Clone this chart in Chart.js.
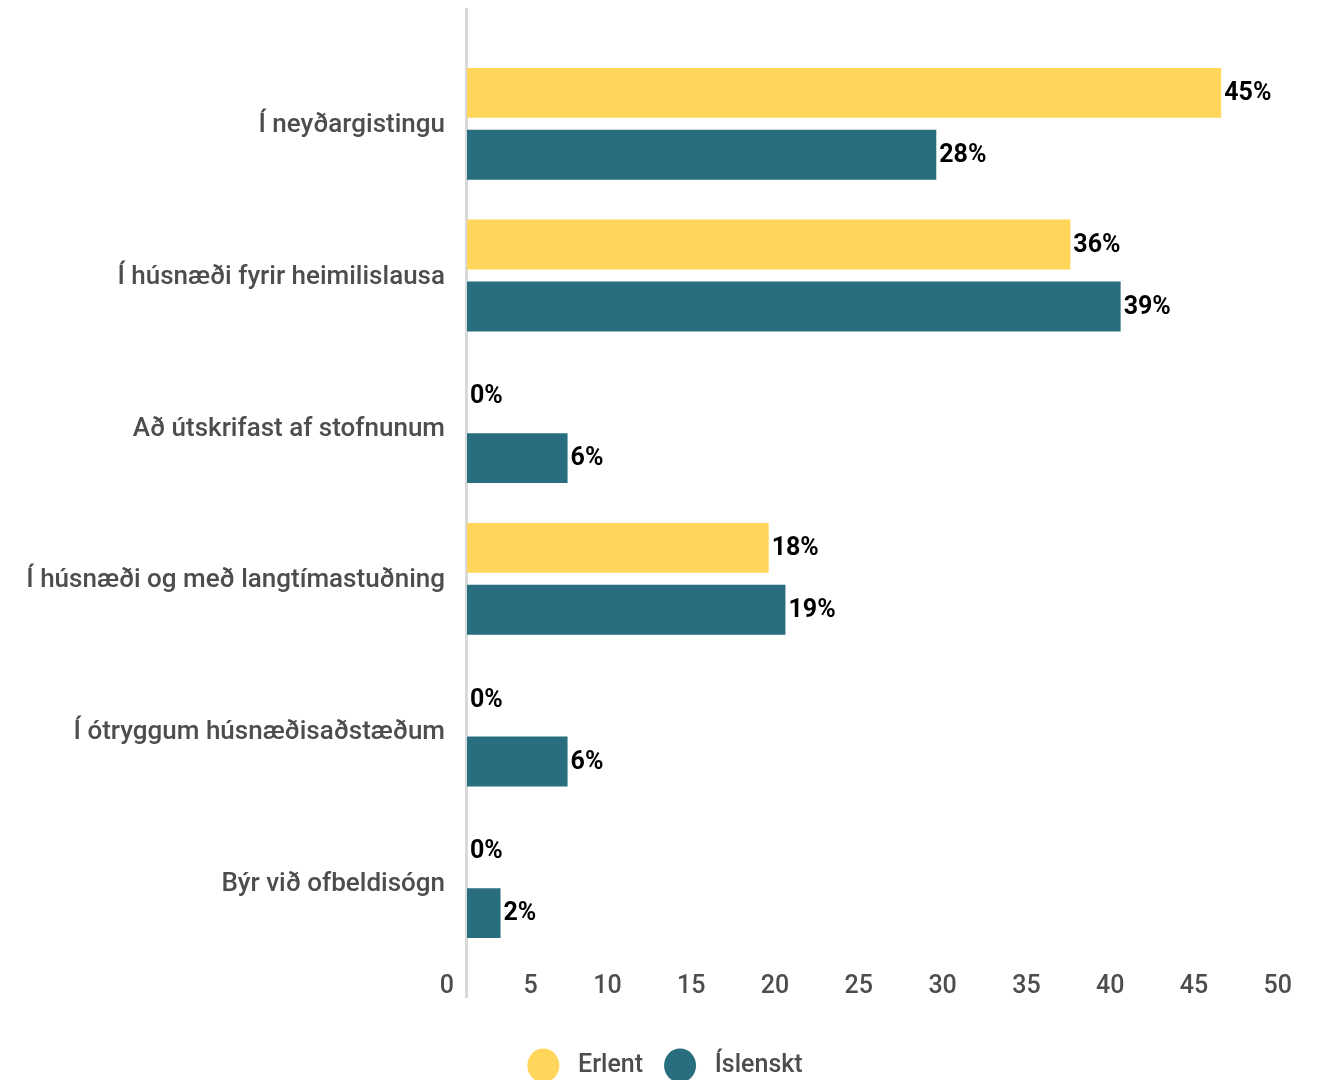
<!DOCTYPE html>
<html>
<head>
<meta charset="utf-8">
<script src="https://cdn.jsdelivr.net/npm/chart.js@4"></script>
<style>
  html, body { margin: 0; padding: 0; background: #ffffff; }
  #wrap { width: 1325px; height: 1080px; position: relative; }
</style>
</head>
<body>
<div id="wrap"><canvas id="c" width="1325" height="1080"></canvas></div>
<script>
const categories = [
  'Í neyðargistingu',
  'Í húsnæði fyrir heimilislausa',
  'Að útskrifast af stofnunum',
  'Í húsnæði og með langtímastuðning',
  'Í ótryggum húsnæðisaðstæðum',
  'Býr við ofbeldisógn'
];
const seriesNames = ['Erlent', 'Íslenskt'];
const erlentValues = [45, 36, 0, 18, 0, 0];
const islensktValues = [28, 39, 6, 19, 6, 2];
const xTicks = [0, 5, 10, 15, 20, 25, 30, 35, 40, 45, 50];

const YELLOW = '#FFD55A';
const TEAL = '#286E7E';
const TEXT_GRAY = '#4d4d4d';
const FONT = 'Roboto';

const axisLinePlugin = {
  id: 'axisLine',
  beforeDatasetsDraw(chart) {
    const ctx = chart.ctx;
    const x = chart.scales.x.getPixelForValue(0);
    ctx.save();
    ctx.strokeStyle = '#d9d9d9';
    ctx.lineWidth = 3;
    ctx.beginPath();
    ctx.moveTo(x - 0.5, 8);
    ctx.lineTo(x - 0.5, 998);
    ctx.stroke();
    ctx.restore();
  }
};

const valueLabelPlugin = {
  id: 'valueLabels',
  afterDatasetsDraw(chart) {
    const ctx = chart.ctx;
    ctx.save();
    ctx.font = 'bold 25px ' + FONT;
    ctx.fillStyle = '#000000';
    ctx.textAlign = 'left';
    ctx.textBaseline = 'middle';
    chart.data.datasets.forEach((ds, di) => {
      const meta = chart.getDatasetMeta(di);
      meta.data.forEach((bar, i) => {
        const v = ds.data[i];
        ctx.fillText(v + '%', bar.x + 3, bar.y + 1);
      });
    });
    ctx.restore();
  }
};

const chart = new Chart(document.getElementById('c'), {
  type: 'bar',
  data: {
    labels: categories,
    datasets: [
      { label: seriesNames[0], data: erlentValues, backgroundColor: YELLOW, borderWidth: 0,
        barPercentage: 0.806, categoryPercentage: 0.816 },
      { label: seriesNames[1], data: islensktValues, backgroundColor: TEAL, borderWidth: 0,
        barPercentage: 0.806, categoryPercentage: 0.816 }
    ]
  },
  options: {
    indexAxis: 'y',
    responsive: false,
    animation: false,
    devicePixelRatio: 1,
    layout: { padding: { top: 48, right: 20, left: 25, bottom: -8 } },
    scales: {
      x: {
        min: 0, max: 50,
        afterBuildTicks(scale) { scale.ticks = xTicks.map(v => ({ value: v })); },
        afterFit(scale) { scale.height = 74; },
        grid: { display: false, drawTicks: false },
        border: { display: false },
        ticks: {
          align: 'end',
          labelOffset: -13,
          padding: 14,
          color: TEXT_GRAY,
          font: { family: FONT, size: 25, weight: '500' }
        }
      },
      y: {
        afterFit(scale) { scale.width = 442; },
        grid: { display: false, drawTicks: false },
        border: { display: false },
        ticks: {
          padding: 22,
          labelOffset: 2,
          color: TEXT_GRAY,
          font: { family: FONT, size: 26, weight: '500' }
        }
      }
    },
    plugins: {
      legend: {
        position: 'bottom',
        labels: {
          usePointStyle: true,
          pointStyle: 'circle',
          pointStyleWidth: 32,
          boxHeight: 24,
          padding: 21,
          color: TEXT_GRAY,
          font: { family: FONT, size: 25, weight: '500' },
          generateLabels(chart) {
            return chart.data.datasets.map((ds, i) => ({
              text: ' ' + ds.label,
              fillStyle: ds.backgroundColor,
              strokeStyle: ds.backgroundColor,
              lineWidth: 0,
              pointStyle: 'circle',
              hidden: false,
              datasetIndex: i,
              fontColor: TEXT_GRAY
            }));
          }
        }
      },
      tooltip: { enabled: false }
    }
  },
  plugins: [axisLinePlugin, valueLabelPlugin]
});
</script>
</body>
</html>
